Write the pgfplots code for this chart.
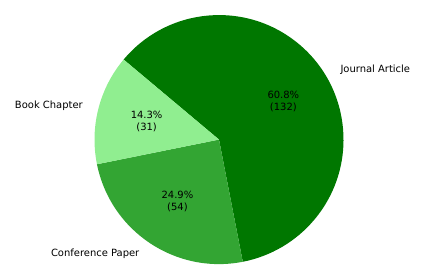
\documentclass[border=0pt]{standalone}
\usepackage{pgfplots}
\pgfplotsset{compat=1.18}
\usepackage{fontspec}
\setmainfont{DejaVu Sans}
\definecolor{jcol}{RGB}{0,119,0}
\definecolor{ccol}{RGB}{51,165,51}
\definecolor{bcol}{RGB}{144,238,144}
\begin{document}
\begin{tikzpicture}
% data: Journal Article 132, Conference Paper 54, Book Chapter 31
\def\vJ{132}\def\vC{54}\def\vB{31}
\pgfmathsetmacro\total{\vJ+\vC+\vB}
\def\cx{219}\def\cy{139.5}\def\r{124.5}
\pgfmathsetmacro\rp{0.6*\r}
\pgfmathsetmacro\rl{1.1*\r}
\pgfmathsetmacro\aA{140}
\pgfmathsetmacro\aB{\aA-360*(\vJ/\total)}
\pgfmathsetmacro\aC{\aB-360*(\vC/\total)}
\pgfmathsetmacro\aD{\aC-360*(\vB/\total)}
\pgfmathsetmacro\mA{(\aA+\aB)/2}
\pgfmathsetmacro\mB{(\aB+\aC)/2}
\pgfmathsetmacro\mC{(\aC+\aD)/2}
\begin{axis}[hide axis, x=1bp, y=1bp, xmin=0, xmax=446, ymin=0, ymax=277,
  clip=false, scale only axis,
  every node/.style={font=\fontsize{7.2}{8.7}\selectfont, inner sep=0pt}]
\path (axis cs:0,0) rectangle (axis cs:446,277);
\fill[jcol] (axis cs:\cx,\cy) -- ++(\aA:\r bp) arc[start angle=\aA, end angle=\aB, radius=\r bp] -- cycle;
\fill[ccol] (axis cs:\cx,\cy) -- ++(\aB:\r bp) arc[start angle=\aB, end angle=\aC, radius=\r bp] -- cycle;
\fill[bcol] (axis cs:\cx,\cy) -- ++(\aC:\r bp) arc[start angle=\aC, end angle=\aD, radius=\r bp] -- cycle;
\path (axis cs:\cx,\cy) ++(\mA:\rp bp) node[align=center] {60.8\%\\(132)};
\path (axis cs:\cx,\cy) ++(\mB:\rp bp) node[align=center] {24.9\%\\(54)};
\path (axis cs:\cx,\cy) ++(\mC:\rp bp) node[align=center] {14.3\%\\(31)};
\path (axis cs:\cx,\cy) ++(\mA:\rl bp) node[anchor=west] {Journal Article};
\path (axis cs:\cx,\cy) ++(\mB:\rl bp) node[anchor=east] {Conference Paper};
\path (axis cs:\cx,\cy) ++(\mC:\rl bp) node[anchor=east] {Book Chapter};
\end{axis}
\end{tikzpicture}
\end{document}
